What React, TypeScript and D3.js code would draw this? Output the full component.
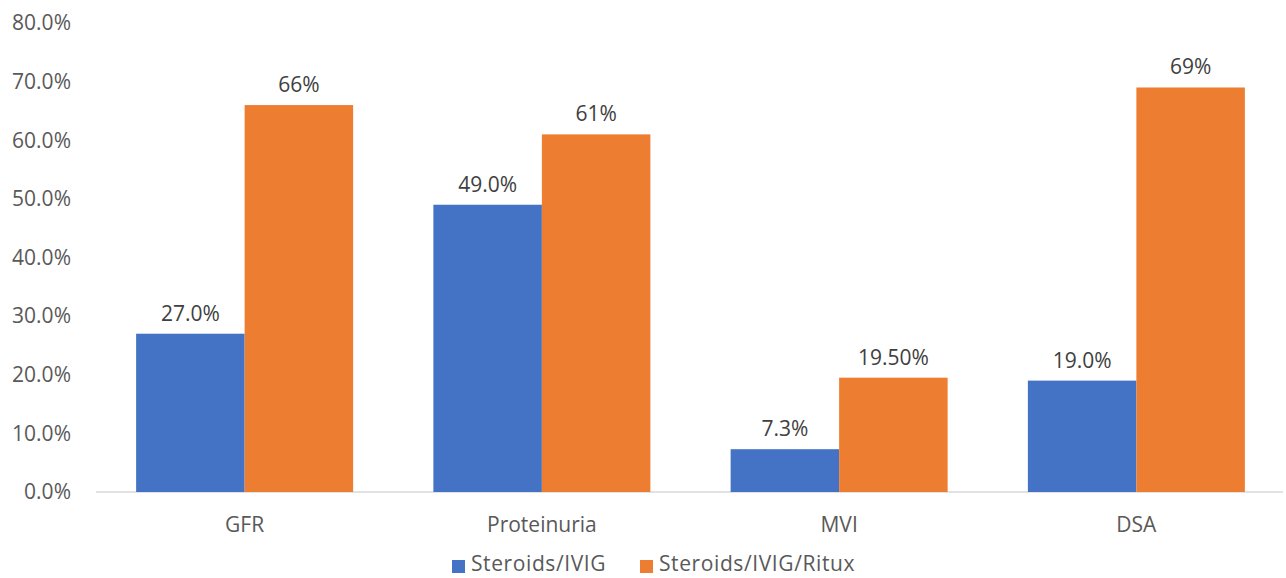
import React from 'react';
import { scaleBand, scaleLinear } from 'd3';

const categories = ['GFR', 'Proteinuria', 'MVI', 'DSA'];
const seriesNames = ['Steroids/IVIG', 'Steroids/IVIG/Ritux'];
const steroidsIvig = [27.0, 49.0, 7.3, 19.0];
const steroidsIvigRitux = [66, 61, 19.5, 69];
const steroidsIvigLabels = ['27.0%', '49.0%', '7.3%', '19.0%'];
const steroidsIvigRituxLabels = ['66%', '61%', '19.50%', '69%'];
const yTicks = [0, 10, 20, 30, 40, 50, 60, 70, 80];

const width = 1286;
const height = 578;
const colors = ['#4472C4', '#ED7D31'];
const font = "'Open Sans', 'Liberation Sans', sans-serif";
const textColor = '#595959';
const fontSize = 21;

const App = () => {
  const yScale = scaleLinear().domain([0, 80]).range([492, 23]);
  const x0 = scaleBand()
    .domain(categories)
    .range([96, 1285])
    .paddingInner(0.27)
    .paddingOuter(0.135);
  const x1 = scaleBand().domain(seriesNames).range([0, x0.bandwidth()]);

  const series = [
    { name: seriesNames[0], values: steroidsIvig, labels: steroidsIvigLabels },
    { name: seriesNames[1], values: steroidsIvigRitux, labels: steroidsIvigRituxLabels },
  ];

  const legendItems = [
    { name: seriesNames[0], x: 452 },
    { name: seriesNames[1], x: 640 },
  ];

  return (
    <svg
      width={width}
      height={height}
      style={{ position: 'absolute', left: 0, top: 0, background: '#fff' }}
      fontFamily={font}
    >
      {yTicks.map((t) => (
        <text
          key={t}
          x={71}
          y={yScale(t)}
          dy="0.35em"
          textAnchor="end"
          fontSize={fontSize}
          fill={textColor}
        >
          {t.toFixed(1)}%
        </text>
      ))}
      <line x1={96} x2={1283} y1={yScale(0)} y2={yScale(0)} stroke="#D9D9D9" strokeWidth={1.5} />

      {series.map((s, si) => (
        <g key={s.name}>
          {categories.map((c, i) => (
            <g key={c}>
              <rect
                x={(x0(c) ?? 0) + (x1(s.name) ?? 0)}
                y={yScale(s.values[i])}
                width={x1.bandwidth()}
                height={yScale(0) - yScale(s.values[i])}
                fill={colors[si]}
              />
              <text
                x={(x0(c) ?? 0) + (x1(s.name) ?? 0) + x1.bandwidth() / 2}
                y={yScale(s.values[i]) - 13}
                textAnchor="middle"
                fontSize={fontSize}
                fill="#404040"
              >
                {s.labels[i]}
              </text>
            </g>
          ))}
        </g>
      ))}

      {categories.map((c) => (
        <text
          key={c}
          x={(x0(c) ?? 0) + x0.bandwidth() / 2}
          y={525}
          dy="0.35em"
          textAnchor="middle"
          fontSize={fontSize}
          fill={textColor}
        >
          {c}
        </text>
      ))}

      {legendItems.map((l, i) => (
        <g key={l.name}>
          <rect x={l.x} y={560} width={13} height={13} fill={colors[i]} />
          <text x={l.x + 19} y={571} fontSize={fontSize} fill={textColor} letterSpacing={0.6}>
            {l.name}
          </text>
        </g>
      ))}
    </svg>
  );
};

export default App;
